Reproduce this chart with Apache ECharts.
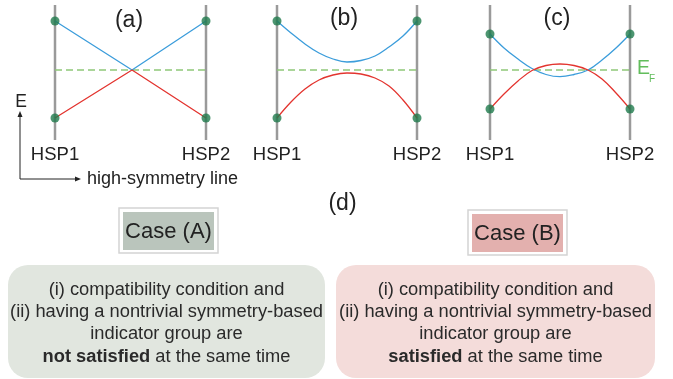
<!DOCTYPE html>
<html><head><meta charset="utf-8">
<script src="https://cdn.jsdelivr.net/npm/echarts@6/dist/echarts.min.js"></script>
<style>html,body{margin:0;padding:0;background:#fff}#c{width:673px;height:379px}</style>
</head><body><div id="c"></div>
<script>
// ---- data ----
const hspLabels = ['HSP1', 'HSP2'];
const panelLabels = ['(a)', '(b)', '(c)'];
// panel (a): straight bands crossing at EF
const tA = [0, 0.51, 1];
const aBlue = [49, 0, 49];
const aRed = [-48, 0, -48];
// panels (b),(c): curved bands
const tBC = [0, 0.1, 0.2, 0.3, 0.4, 0.5, 0.6, 0.7, 0.8, 0.9, 1];
const bBlue = [49, 37, 26, 17, 11, 8, 9.5, 14, 23, 34, 49];
const bRed = [-48, -32, -19, -10, -5, -3, -4, -8, -16, -30, -48];
const cBlue = [36, 22, 11, 1.5, -4.5, -6.7, -4.5, 0, 10, 22, 36];
const cRed = [-39, -24, -11, -0.5, 4.5, 6, 4.5, 0, -9, -23, -39];
const energyRange = [-70, 65];
const fermi = 0;
const caseTitles = ['Case (A)', 'Case (B)'];
const caseLines = [
  ['(i) compatibility condition and', '(ii) having a nontrivial symmetry-based', 'indicator group are', '{b|not satisfied} at the same time'],
  ['(i) compatibility condition and', '(ii) having a nontrivial symmetry-based', 'indicator group are', '{b|satisfied} at the same time']
];

const FONT = 'Liberation Sans, Arial, sans-serif';
const BLUE = '#3c9ddb', RED = '#e3342f', DOT = '#1f7a4c', GRAY = '#9a9a9a', DASH = '#8fc878';

const grids = [
  {left: 55, top: 5, width: 151, height: 135},
  {left: 277, top: 5, width: 140, height: 135},
  {left: 490, top: 5, width: 140, height: 135}
];
const xAxes = grids.map((g, i) => ({
  gridIndex: i, type: 'value', min: 0, max: 1, interval: 1,
  axisLine: {show: false}, axisTick: {show: false}, splitLine: {show: false},
  axisLabel: {margin: 5, fontFamily: FONT, fontSize: 18.5, color: '#222',
    formatter: v => hspLabels[Math.round(v)]}
}));
const yAxes = grids.map((g, i) => ({
  gridIndex: i, type: 'value', min: energyRange[0], max: energyRange[1], show: false
}));

function zip(t, v) { return t.map((x, k) => [x, v[k]]); }
const bands = [[tA, aBlue, aRed, false], [tBC, bBlue, bRed, 0.4], [tBC, cBlue, cRed, 0.4]];
const series = [];
bands.forEach(([t, bl, rd, smooth], i) => {
  series.push({type: 'line', xAxisIndex: i, yAxisIndex: i, data: [[0, energyRange[0]], [0, energyRange[1]]],
    symbol: 'none', lineStyle: {color: GRAY, width: 2.5}, silent: true, z: 1});
  series.push({type: 'line', xAxisIndex: i, yAxisIndex: i, data: [[1, energyRange[0]], [1, energyRange[1]]],
    symbol: 'none', lineStyle: {color: GRAY, width: 2.5}, silent: true, z: 1});
  series.push({type: 'line', xAxisIndex: i, yAxisIndex: i, data: [[0, fermi], [1, fermi]],
    symbol: 'none', lineStyle: {color: DASH, width: 1.5, type: [7, 4]}, silent: true, z: 2});
  series.push({type: 'line', xAxisIndex: i, yAxisIndex: i, data: zip(t, bl), smooth: smooth,
    symbol: 'none', lineStyle: {color: BLUE, width: 1.3}, z: 3});
  series.push({type: 'line', xAxisIndex: i, yAxisIndex: i, data: zip(t, rd), smooth: smooth,
    symbol: 'none', lineStyle: {color: RED, width: 1.3}, z: 3});
  series.push({type: 'scatter', xAxisIndex: i, yAxisIndex: i,
    data: [[0, bl[0]], [1, bl[bl.length - 1]], [0, rd[0]], [1, rd[rd.length - 1]]],
    symbolSize: 9, itemStyle: {color: DOT}, z: 4});
});

const txt = (x, y, s, size, extra) => Object.assign({type: 'text', x: x, y: y,
  style: Object.assign({text: s, fontFamily: FONT, fontSize: size, fill: '#222', align: 'center', verticalAlign: 'middle'}, extra || {})});

const graphic = [
  txt(129, 21, panelLabels[0], 23), txt(344, 19, panelLabels[1], 23), txt(557, 19, panelLabels[2], 23),
  txt(637, 69, 'E', 19.5, {fill: '#62bd5c', align: 'left'}), txt(649, 79, 'F', 10, {fill: '#62bd5c', align: 'left'}),
  txt(21, 102, 'E', 17.5),
  {type: 'line', shape: {x1: 20, y1: 179, x2: 20, y2: 114}, style: {stroke: '#222', lineWidth: 1}},
  {type: 'polygon', shape: {points: [[20, 111], [17.5, 117], [22.5, 117]]}, style: {fill: '#222'}},
  {type: 'line', shape: {x1: 20, y1: 179, x2: 78, y2: 179}, style: {stroke: '#222', lineWidth: 1}},
  {type: 'polygon', shape: {points: [[81, 179], [75, 176.5], [75, 181.5]]}, style: {fill: '#222'}},
  txt(87, 179, 'high-symmetry line', 18, {align: 'left'}),
  txt(342.5, 204, '(d)', 23),
  // case title boxes
  {type: 'rect', shape: {x: 119, y: 208, width: 99, height: 45}, style: {fill: '#fff', stroke: '#d4d4d4', lineWidth: 1.5}},
  {type: 'rect', shape: {x: 123, y: 212, width: 91, height: 38}, style: {fill: '#bac5bc'}},
  txt(168.5, 232, caseTitles[0], 22),
  {type: 'rect', shape: {x: 468, y: 210, width: 99, height: 45}, style: {fill: '#fff', stroke: '#d4d4d4', lineWidth: 1.5}},
  {type: 'rect', shape: {x: 472, y: 214, width: 91, height: 38}, style: {fill: '#e3b0ae'}},
  txt(517.5, 234, caseTitles[1], 22),
  // big rounded boxes
  {type: 'rect', shape: {x: 8, y: 265, width: 317, height: 113, r: 20}, style: {fill: '#e1e6df'}},
  {type: 'rect', shape: {x: 336, y: 265, width: 319, height: 113, r: 20}, style: {fill: '#f4dcda'}}
];
const lineYs = [290, 312, 334, 357];
[166.5, 495.5].forEach((cx, j) => {
  caseLines[j].forEach((s, k) => {
    graphic.push(txt(cx, lineYs[k], s, 18.3, {fill: '#2a2a2a',
      rich: {b: {fontWeight: 'bold', fontFamily: FONT, fontSize: 18.3, fill: '#2a2a2a'}}}));
  });
});

const chart = echarts.init(document.getElementById('c'));
chart.setOption({
  animation: false,
  grid: grids,
  xAxis: xAxes,
  yAxis: yAxes,
  series: series,
  graphic: graphic
});
</script></body></html>
